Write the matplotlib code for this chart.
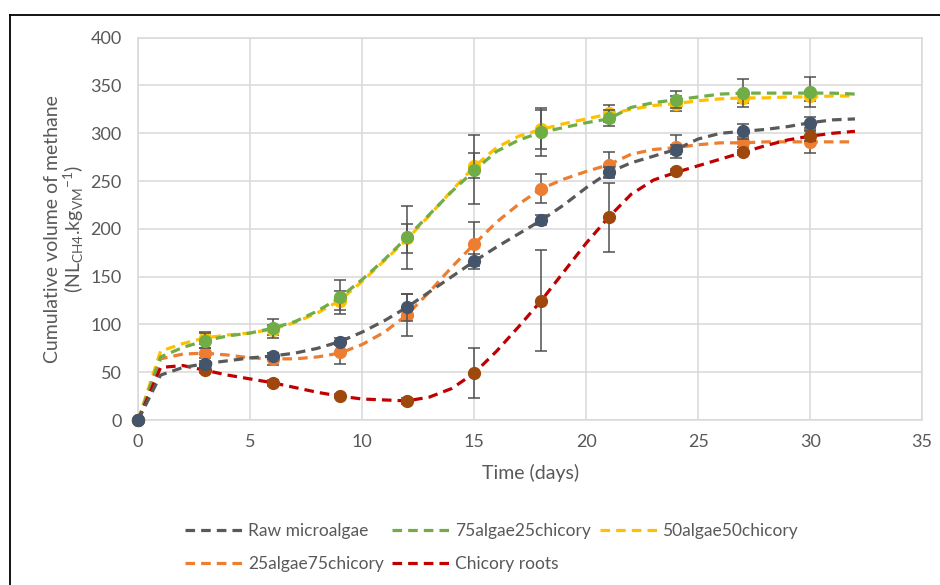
import matplotlib
matplotlib.use("Agg")
import matplotlib.pyplot as plt
from matplotlib.lines import Line2D

# -----------------------------
# Data
# -----------------------------
days = list(range(0, 33))
sample_days = [0, 3, 6, 9, 12, 15, 18, 21, 24, 27, 30]

raw_curve = [0, 47, 55, 59, 62, 65, 67, 70, 75, 82, 92, 104, 118, 134, 150, 166, 181, 195, 209,
             225, 243, 259, 269, 276, 283, 294, 300, 302, 304, 307, 311, 314, 315]
a75_curve = [0, 66, 76, 83, 88, 91, 96, 103, 114, 128, 147, 168, 191, 215, 239, 261, 281, 293, 301,
             306, 311, 315, 327, 332, 335, 338, 341, 342, 342, 342, 342, 342, 341]
a50_curve = [0, 72, 80, 86, 89, 91, 95, 102, 112, 125, 145, 167, 189, 214, 240, 265, 285, 297, 304,
             310, 315, 320, 325, 329, 331, 334, 336, 337, 337, 338, 338, 339, 339]
a25_curve = [0, 64, 69, 70, 68, 65, 64, 64, 66, 70, 79, 92, 110, 134, 160, 184, 207, 226, 242,
             252, 260, 267, 278, 283, 285, 288, 290, 290, 291, 291, 291, 291, 291]
chic_curve = [0, 55, 57, 52, 47, 43, 39, 34, 29, 25, 22, 21, 20, 24, 33, 49, 72, 98, 125,
              155, 185, 212, 236, 251, 259, 266, 273, 280, 287, 293, 297, 300, 302]

raw_mean = [0, 59, 67, 82, 118, 166, 209, 259, 283, 302, 311]
a75_mean = [0, 83, 96, 129, 191, 262, 301, 316, 335, 342, 343]
a50_mean = [0, 86, 94, 125, 190, 266, 304, 321, 331, 337, 339]
a25_mean = [0, 70, 64, 71, 110, 184, 242, 267, 286, 291, 291]
chic_mean = [0, 52, 39, 25, 20, 49, 125, 212, 260, 280, 297]

raw_err = [0, 3, 3, 4, 14, 8, 5, 6, 5, 8, 6]
a75_err = [0, 8, 10, 18, 33, 36, 25, 8, 9, 15, 16]
a50_err = [0, 6, 5, 10, 15, 13, 20, 9, 8, 5, 5]
a25_err = [0, 5, 6, 12, 22, 23, 15, 13, 12, 5, 12]
chic_err = [0, 3, 3, 2, 3, 26, 53, 36, 3, 3, 5]

labels = ["Raw microalgae", "75algae25chicory", "50algae50chicory", "25algae75chicory", "Chicory roots"]
line_colors = ["#595959", "#70AD47", "#FFC000", "#ED7D31", "#C00000"]
marker_colors = ["#44546A", "#70AD47", "#FFC000", "#ED7D31", "#9E480E"]
curves = [raw_curve, a75_curve, a50_curve, a25_curve, chic_curve]
means = [raw_mean, a75_mean, a50_mean, a25_mean, chic_mean]
errs = [raw_err, a75_err, a50_err, a25_err, chic_err]
zorders = [7, 5, 4, 3, 6]

# -----------------------------
# Styling
# -----------------------------
plt.rcParams["font.family"] = ["Lato", "DejaVu Sans"]
plt.rcParams["mathtext.fontset"] = "custom"
plt.rcParams["mathtext.rm"] = "Lato"
plt.rcParams["mathtext.it"] = "Lato"
txt = "#595959"

fig = plt.figure(figsize=(9.4, 5.85), dpi=100)
ax = fig.add_axes([0.147, 0.282, 0.834, 0.6536])

handles = []
for i in range(5):
    ln, = ax.plot(days, curves[i], color=line_colors[i], lw=2.3, ls=(0, (3, 1.9)),
                  zorder=zorders[i], label=labels[i])
    handles.append(ln)
    eb = ax.errorbar(sample_days, means[i], yerr=errs[i], fmt="o", ms=8.5,
                     color=marker_colors[i], ecolor="#505050", elinewidth=1.1,
                     capsize=4, capthick=1.1, zorder=zorders[i] + 0.5)
    eb[0].set_clip_on(False)

ax.set_xlim(0, 35)
ax.set_ylim(0, 400)
ax.set_xticks(range(0, 36, 5))
ax.set_yticks(range(0, 401, 50))
ax.grid(True, color="#D9D9D9", lw=1.1)
ax.set_axisbelow(True)
for s in ax.spines.values():
    s.set_color("#D9D9D9")
    s.set_linewidth(1.1)
ax.tick_params(length=0, labelsize=13, labelcolor=txt)
ax.tick_params(axis="y", pad=12)
ax.tick_params(axis="x", pad=10)
ax.set_xlabel("Time (days)", fontsize=14, color=txt, labelpad=10)
ax.set_ylabel("Cumulative volume of methane\n" + r"(NL$_{\mathrm{CH4}}$.kg$_{\mathrm{VM}}$$^{\mathrm{-1}}$)",
              fontsize=14, color=txt, linespacing=1.05)
ax.yaxis.set_label_coords(-0.066, 0.5)

# legend, row-major order (Excel style)
order = [0, 3, 1, 4, 2]
leg = fig.legend([handles[k] for k in order], [labels[k] for k in order],
                 loc="center", bbox_to_anchor=(0.523, 0.064), ncol=3, frameon=False,
                 fontsize=12.5, handlelength=3.3, columnspacing=0.5, handletextpad=0.3,
                 labelspacing=1.0)
for t in leg.get_texts():
    t.set_color(txt)

# chart-area border (left and top visible)
fig.add_artist(Line2D([0.011, 0.011], [0, 0.974], color="black", lw=1.3, transform=fig.transFigure))
fig.add_artist(Line2D([0.011, 1.0], [0.974, 0.974], color="black", lw=1.3, transform=fig.transFigure))

fig.savefig("out.png", dpi=100)
